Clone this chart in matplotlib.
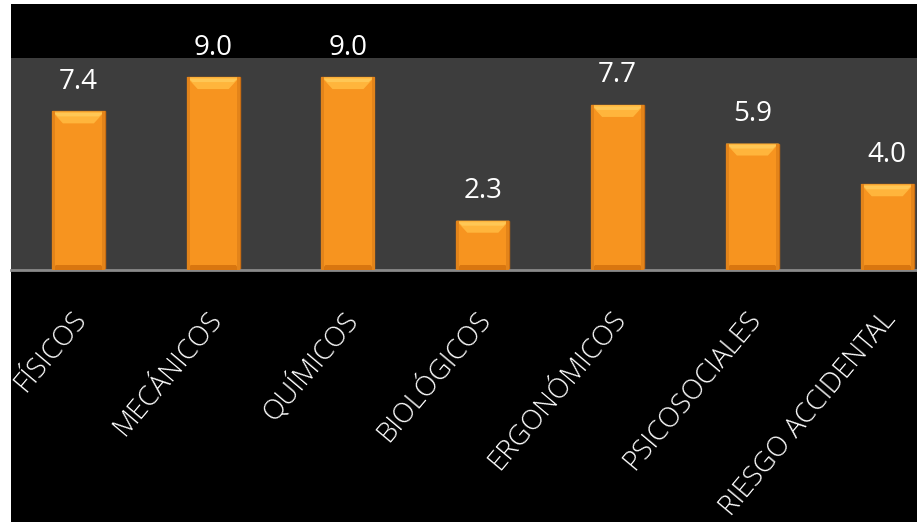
import matplotlib
matplotlib.use("Agg")
import matplotlib.pyplot as plt
from matplotlib.patches import Rectangle, Polygon
from matplotlib.transforms import ScaledTranslation

categories = ["FÍSICOS", "MECÁNICOS", "QUÍMICOS", "BIOLÓGICOS",
              "ERGONÓMICOS", "PSICOSOCIALES", "RIESGO ACCIDENTAL"]
values = [7.4, 9.0, 9.0, 2.3, 7.7, 5.9, 4.0]

W, H = 917, 522
fig = plt.figure(figsize=(W / 100, H / 100), dpi=100, facecolor="white")
# black chart background
fig.patches.append(Rectangle((11 / W, 0), 1, 1 - 4 / H, transform=fig.transFigure,
                             facecolor="black", edgecolor="none", zorder=-5))

left = 11 / W
width = (954.6 - 11) / W
bottom = (H - 270) / H
height = (270 - 58) / H
ax = fig.add_axes([left, bottom, width, height])
ax.set_facecolor("#3d3d3d")
ax.set_xlim(-0.5, len(categories) - 0.5)
ax.set_ylim(0, 9.89)

bw = 53 / 134.8
x = list(range(len(categories)))
ax.bar(x, values, width=bw, color="#f7941f", edgecolor="#c96d12", linewidth=1.0, zorder=2)

# bevel highlights derived from bar geometry
py = 9.89 / 212.0   # data units per pixel (y)
px = 1 / 134.8      # data units per pixel (x)
for xi, v in zip(x, values):
    x0, x1 = xi - bw / 2, xi + bw / 2
    th = 12 * py
    ax.add_patch(Polygon([(x0, v), (x1, v), (x1 - 11 * px, v - th), (x0 + 11 * px, v - th)],
                         closed=True, facecolor="#ffb53c", edgecolor="none", zorder=3))
    ax.add_patch(Polygon([(x0 + 2 * px, v - 1.5 * py), (x1 - 2 * px, v - 1.5 * py),
                          (x1 - 6 * px, v - 5 * py), (x0 + 6 * px, v - 5 * py)],
                         closed=True, facecolor="#ffd466", edgecolor="none", alpha=0.6, zorder=3))
    bh = 5 * py
    ax.add_patch(Polygon([(x0, 0), (x1, 0), (x1 - 4 * px, bh), (x0 + 4 * px, bh)],
                         closed=True, facecolor="#d9760f", edgecolor="none", zorder=3))
    ax.add_patch(Rectangle((x0, 0), 3 * px, v, facecolor="#e3841a", edgecolor="none", zorder=3))
    ax.add_patch(Rectangle((x1 - 3 * px, 0), 3 * px, v, facecolor="#e3841a", edgecolor="none", zorder=3))
    ax.text(xi, v + 33 * py, f"{v:.1f}", ha="center", va="center_baseline", color="white",
            fontsize=20, family="Open Sans", zorder=4, clip_on=False,
            fontstretch="semi-condensed")

for s in ["top", "right", "left"]:
    ax.spines[s].set_visible(False)
ax.spines["bottom"].set_color("#8a8a8a")
ax.spines["bottom"].set_linewidth(2)
ax.set_yticks([])
ax.set_xticks(x)
ax.set_xticklabels(categories, rotation=50, ha="right", va="top",
                   rotation_mode="anchor", color="white", fontsize=20,
                   family="Open Sans", fontstretch="normal", fontweight="light")
ax.tick_params(axis="x", length=0, pad=26)
shift = ScaledTranslation(-7 / 100, 0, fig.dpi_scale_trans)
for lab in ax.get_xticklabels():
    lab.set_transform(lab.get_transform() + shift)

fig.savefig("out.png", dpi=100, facecolor="white")
